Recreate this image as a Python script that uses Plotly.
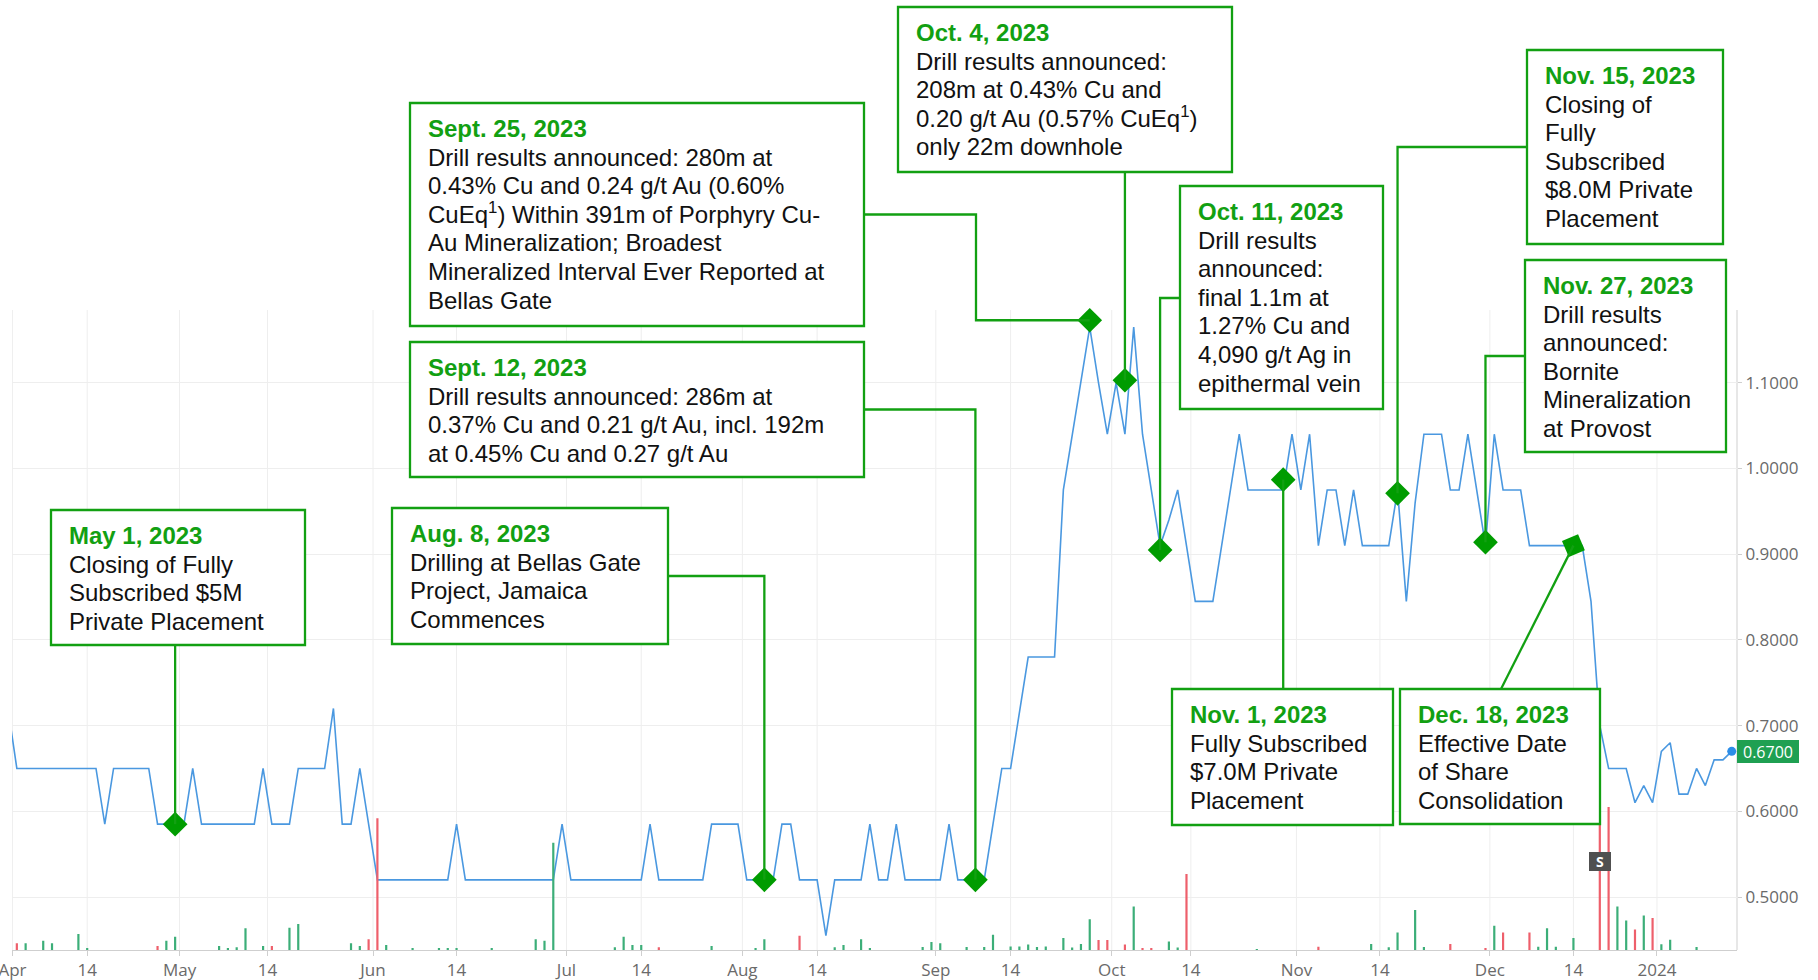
import pandas as pd
import plotly.graph_objects as go

# ---------------- DATA ----------------
HOLIDAYS = ["2023-04-07", "2023-05-22", "2023-07-03", "2023-08-07", "2023-09-04",
            "2023-10-09", "2023-12-25", "2023-12-26", "2024-01-01"]
trade_dates = [d.strftime("%Y-%m-%d") for d in
               pd.bdate_range("2023-03-31", "2024-01-12", freq="C", holidays=HOLIDAYS)]

close = [
    0.72,
    0.65, 0.65, 0.65, 0.65, 0.65, 0.65, 0.65, 0.65, 0.65, 0.65,
    0.585, 0.65, 0.65, 0.65, 0.65, 0.65,
    0.585, 0.585, 0.585, 0.585, 0.65,
    0.585, 0.585, 0.585, 0.585, 0.585, 0.585, 0.585, 0.65,
    0.585, 0.585, 0.585, 0.65, 0.65, 0.65, 0.65, 0.72,
    0.585, 0.585, 0.65, 0.585,
    0.52, 0.52, 0.52, 0.52, 0.52, 0.52, 0.52, 0.52, 0.52, 0.585,
    0.52, 0.52, 0.52, 0.52, 0.52, 0.52, 0.52, 0.52, 0.52, 0.52, 0.52, 0.585,
    0.52, 0.52, 0.52, 0.52, 0.52, 0.52, 0.52, 0.52, 0.52, 0.585,
    0.52, 0.52, 0.52, 0.52, 0.52, 0.52, 0.585, 0.585, 0.585, 0.585,
    0.52, 0.52, 0.52, 0.52, 0.585, 0.585,
    0.52, 0.52, 0.52, 0.455, 0.52, 0.52, 0.52, 0.52, 0.585,
    0.52, 0.52, 0.585, 0.52, 0.52, 0.52, 0.52, 0.52, 0.585,
    0.52, 0.52, 0.52, 0.52, 0.585, 0.65, 0.65, 0.715,
    0.78, 0.78, 0.78, 0.78, 0.975, 1.04, 1.10, 1.165, 1.10, 1.04, 1.10, 1.04, 1.165, 1.04,
    0.975, 0.91, 0.94, 0.975, 0.91, 0.845, 0.845, 0.845, 0.91, 0.975, 1.04,
    0.975, 0.975, 0.975, 0.975, 0.975, 1.04, 0.975, 1.04, 0.91, 0.975, 0.975, 0.91, 0.975,
    0.91, 0.91, 0.91, 0.91, 0.975, 0.845, 0.96, 1.04, 1.04, 1.04,
    0.975, 0.975, 1.04, 0.975, 0.91, 1.04,
    0.975, 0.975, 0.975, 0.91, 0.91, 0.91, 0.91, 0.91, 0.91, 0.91,
    0.845, 0.70,
    0.65, 0.65, 0.65,
    0.61, 0.63, 0.61, 0.67, 0.68, 0.62, 0.62, 0.65, 0.63, 0.66, 0.66, 0.67,
]
assert len(close) == len(trade_dates), (len(close), len(trade_dates))

# volume in thousands of shares (relative)
vol_dates = [
    "2023-04-03", "2023-04-04", "2023-04-06", "2023-04-10", "2023-04-13", "2023-04-14",
    "2023-04-26", "2023-04-27", "2023-04-28", "2023-05-05", "2023-05-08", "2023-05-09",
    "2023-05-10", "2023-05-12", "2023-05-15", "2023-05-17", "2023-05-18", "2023-05-29",
    "2023-05-30", "2023-05-31", "2023-06-01", "2023-06-02", "2023-06-07", "2023-06-12",
    "2023-06-13", "2023-06-14", "2023-06-20", "2023-06-27", "2023-06-28", "2023-06-29",
    "2023-07-11", "2023-07-12", "2023-07-13", "2023-07-14", "2023-07-18", "2023-07-26",
    "2023-08-02", "2023-08-03", "2023-08-10", "2023-08-16", "2023-08-17", "2023-08-21",
    "2023-08-22", "2023-08-30", "2023-08-31", "2023-09-01", "2023-09-07", "2023-09-11",
    "2023-09-12", "2023-09-14", "2023-09-15", "2023-09-18", "2023-09-19", "2023-09-20",
    "2023-09-22", "2023-09-25", "2023-09-26", "2023-09-27", "2023-09-28", "2023-09-29",
    "2023-10-03", "2023-10-04", "2023-10-05", "2023-10-06", "2023-10-11", "2023-10-12",
    "2023-10-13", "2023-10-25", "2023-11-03", "2023-11-13", "2023-11-15", "2023-11-16",
    "2023-11-20", "2023-11-21", "2023-11-24", "2023-11-30", "2023-12-01", "2023-12-04",
    "2023-12-07", "2023-12-08", "2023-12-11", "2023-12-12", "2023-12-14", "2023-12-19",
    "2023-12-20", "2023-12-21", "2023-12-22", "2023-12-27", "2023-12-28", "2023-12-29",
    "2024-01-02", "2024-01-03", "2024-01-08",
]
vol_k = [
    27, 27, 37, 27, 64, 7,
    16, 37, 53, 16, 7, 11,
    87, 16, 16, 89, 104, 27,
    16, 43, 527, 20, 7, 7,
    7, 7, 7, 43, 37, 429,
    11, 53, 20, 20, 11, 16,
    7, 43, 57, 11, 20, 43,
    7, 12, 32, 27, 12, 12,
    61, 14, 14, 22, 12, 14,
    48, 10, 24, 123, 40, 40,
    22, 174, 8, 8, 34, 10,
    304, 4, 13, 24, 11, 70,
    160, 12, 24, 8, 97, 70,
    70, 13, 87, 13, 48, 800,
    572, 174, 118, 82, 138, 128,
    23, 41, 12,
]

tick_dates = ["2023-04-01", "2023-04-14", "2023-05-01", "2023-05-14", "2023-06-01", "2023-06-14",
              "2023-07-01", "2023-07-14", "2023-08-01", "2023-08-14", "2023-09-01", "2023-09-14",
              "2023-10-01", "2023-10-14", "2023-11-01", "2023-11-14", "2023-12-01", "2023-12-14",
              "2024-01-01"]
tick_text = ["Apr", "14", "May", "14", "Jun", "14", "Jul", "14", "Aug", "14", "Sep", "14",
             "Oct", "14", "Nov", "14", "Dec", "14", "2024"]
price_ticks = [0.5, 0.6, 0.7, 0.8, 0.9, 1.0, 1.1]

# event annotations
event_titles = ["May 1, 2023", "Aug. 8, 2023", "Sept. 12, 2023", "Sept. 25, 2023", "Oct. 4, 2023",
                "Oct. 11, 2023", "Nov. 1, 2023", "Nov. 15, 2023", "Nov. 27, 2023", "Dec. 18, 2023"]
event_lines = [
    ["Closing of Fully", "Subscribed $5M", "Private Placement"],
    ["Drilling at Bellas Gate", "Project, Jamaica", "Commences"],
    ["Drill results announced: 286m at", "0.37% Cu and 0.21 g/t Au, incl. 192m",
     "at 0.45% Cu and 0.27 g/t Au"],
    ["Drill results announced: 280m at", "0.43% Cu and 0.24 g/t Au (0.60%",
     "CuEq<sup>1</sup>) Within 391m of Porphyry Cu-", "Au Mineralization; Broadest",
     "Mineralized Interval Ever Reported at", "Bellas Gate"],
    ["Drill results announced:", "208m at 0.43% Cu and", "0.20 g/t Au (0.57% CuEq<sup>1</sup>)",
     "only 22m downhole"],
    ["Drill results", "announced:", "final 1.1m at", "1.27% Cu and", "4,090 g/t Ag in",
     "epithermal vein"],
    ["Fully Subscribed", "$7.0M Private", "Placement"],
    ["Closing of", "Fully", "Subscribed", "$8.0M Private", "Placement"],
    ["Drill results", "announced:", "Bornite", "Mineralization", "at Provost"],
    ["Effective Date", "of Share", "Consolidation"],
]
marker_dates = ["2023-04-28", "2023-08-03", "2023-09-08", "2023-09-27", "2023-10-03",
                "2023-10-10", "2023-10-30", "2023-11-16", "2023-11-30", "2023-12-14"]
marker_prices = [0.585, 0.52, 0.52, 1.173, 1.103, 0.905, 0.987, 0.971, 0.914, 0.91]
marker_angles = [0, 0, 0, 0, 0, 0, 0, 0, 0, 22]
split_date = "2023-12-19"

# ---------------- LAYOUT CONSTANTS ----------------
W, H = 1818, 980
PL, PR = 12, 1737
X0, X1 = 0.45, 196.6
Y1 = 1 + 468.5 / 857
Y0 = 1 - 511.5 / 857

GREEN = "#12a012"
DIAMOND = "#009c00"
LINE = "#4a98e0"
GRID = "#eeeeee"
AXIS = "#cfcfcf"
TICK = "#6a6a6a"
UP = "#3cae78"
DOWN = "#ee5f6b"


def xp(px):
    return (px - PL) / (PR - PL)


def yp(py):
    return 1 - py / H


def xd(px):
    return X0 + (px - PL) / (PR - PL) * (X1 - X0)


def yd(py):
    return Y1 - py / H * (Y1 - Y0)


idx = {d: i for i, d in enumerate(trade_dates)}


def tick_pos(d):
    i = next(k for k, t in enumerate(trade_dates) if t >= d)
    if trade_dates[i] == d and d.endswith("-14"):
        return i
    return i - 0.5


tick_vals = [tick_pos(d) for d in tick_dates]

# box rectangles in canvas pixels (left, top, right, bottom)
boxes = [(51, 510, 305, 645), (392, 508, 668, 644), (410, 342, 864, 477), (410, 103, 864, 326),
         (898, 7, 1232, 172), (1180, 186, 1383, 409), (1172, 689, 1393, 825),
         (1527, 50, 1723, 244), (1525, 260, 1726, 452), (1400, 689, 1600, 824)]
# connector routes: "D" = marker coordinate, numbers = canvas pixels
routes = [
    [("D", 645), ("D", "D")],
    [(668, 576), ("D", 576), ("D", "D")],
    [(864, 409.5), ("D", 409.5), ("D", "D")],
    [(864, 214.5), (976, 214.5), (976, "D"), ("D", "D")],
    [("D", 172), ("D", "D")],
    [(1180, 298), ("D", 298), ("D", "D")],
    [("D", 689), ("D", "D")],
    [(1527, 147), ("D", 147), ("D", "D")],
    [(1525, 356), ("D", 356), ("D", "D")],
    [(1501, 689), ("D", "D")],
]

# ---------------- FIGURE ----------------
fig = go.Figure()

vol_x = [idx[d] for d in vol_dates]
vol_col = [DOWN if close[idx[d]] < close[idx[d] - 1] else UP for d in vol_dates]
fig.add_trace(go.Bar(x=vol_x, y=vol_k, yaxis="y2", width=0.25,
                     marker=dict(color=vol_col, line=dict(width=0)), hoverinfo="skip"))

fig.add_trace(go.Scatter(x=list(range(len(close))), y=close, mode="lines",
                         line=dict(color=LINE, width=1.6), hoverinfo="skip"))

mx = [idx[d] for d in marker_dates]
fig.add_trace(go.Scatter(x=mx, y=marker_prices, mode="markers",
                         marker=dict(symbol="diamond", size=19, color=DIAMOND, angle=marker_angles,
                                     line=dict(width=0)), hoverinfo="skip"))

fig.add_trace(go.Scatter(x=[len(close) - 1], y=[close[-1]], mode="markers",
                         marker=dict(size=9, color="#2b8de8"), hoverinfo="skip", cliponaxis=False))

shapes = []
for tv in tick_vals:
    shapes.append(dict(type="line", xref="x", yref="y", x0=tv, x1=tv, y0=yd(950), y1=yd(310),
                       line=dict(color=GRID, width=1), layer="below"))
shapes.append(dict(type="line", xref="paper", yref="y", x0=1, x1=1, y0=yd(950), y1=yd(310),
                   line=dict(color=AXIS, width=1), layer="below"))

for k, route in enumerate(routes):
    pts = []
    for (px, py) in route:
        X = mx[k] if px == "D" else xd(px)
        Y = marker_prices[k] if py == "D" else yd(py)
        pts.append(f"{X:.4f},{Y:.5f}")
    shapes.append(dict(type="path", xref="x", yref="y", path="M" + " L".join(pts),
                       line=dict(color=GREEN, width=2.3), layer="above"))

for (L, T, R, B) in boxes:
    shapes.append(dict(type="rect", xref="paper", yref="paper", x0=xp(L), x1=xp(R),
                       y0=yp(B), y1=yp(T), fillcolor="white",
                       line=dict(color=GREEN, width=2.3), layer="above"))

annotations = []
FS = 24
for k, (L, T, R, B) in enumerate(boxes):
    lines = ["<b>" + event_titles[k] + "</b>"] + event_lines[k]
    for j, txt in enumerate(lines):
        base = T + 34 + 28.6 * j
        annotations.append(dict(xref="paper", yref="paper", x=xp(L + 18), y=yp(base + 0.212 * FS),
                                xanchor="left", yanchor="bottom", text=txt, showarrow=False,
                                borderpad=0, borderwidth=0,
                                font=dict(family="Liberation Sans, Arial", size=FS,
                                          color=GREEN if j == 0 else "#111111")))

annotations.append(dict(xref="x", yref="paper", x=idx[split_date], y=yp(861), text="<b>S</b>",
                        xanchor="center", yanchor="middle",
                        showarrow=False, bgcolor="#505050", width=22, height=19, borderpad=0,
                        borderwidth=0, font=dict(family="Open Sans", size=14, color="white")))
annotations.append(dict(xref="paper", yref="y", x=1, y=close[-1], xanchor="left", yanchor="middle",
                        text=f"{close[-1]:.4f}", showarrow=False, bgcolor="#1fa052",
                        width=62, height=23, borderpad=0, borderwidth=0, align="center",
                        font=dict(family="Open Sans", size=16, color="white")))

fig.update_layout(
    width=W, height=H,
    margin=dict(l=PL, r=W - PR, t=0, b=0, pad=0),
    paper_bgcolor="white", plot_bgcolor="white",
    showlegend=False,
    shapes=shapes, annotations=annotations,
    xaxis=dict(range=[X0, X1], domain=[0, 1], anchor="free", position=yp(950),
               tickmode="array", tickvals=tick_vals, ticktext=tick_text,
               showgrid=False, zeroline=False, showline=True, linecolor=AXIS, linewidth=1,
               ticks="outside", ticklen=5, tickcolor=AXIS, automargin=False,
               ticklabeloverflow="allow",
               tickfont=dict(family="Open Sans", size=17, color=TICK)),
    yaxis=dict(range=[Y0, Y1], domain=[0, 1], side="right",
               tickmode="array", tickvals=price_ticks, ticktext=[f"{v:.4f}" for v in price_ticks],
               showgrid=True, gridcolor=GRID, gridwidth=1, zeroline=False, showline=False,
               ticks="outside", ticklen=4, tickcolor=AXIS, automargin=False,
               tickfont=dict(family="Open Sans", size=17, color=TICK)),
    yaxis2=dict(range=[-120, 3800], overlaying="y", visible=False),
)

fig.write_html("out.html", include_plotlyjs=True, config={"displayModeBar": False},
               post_script="document.body.style.margin='0px';")
